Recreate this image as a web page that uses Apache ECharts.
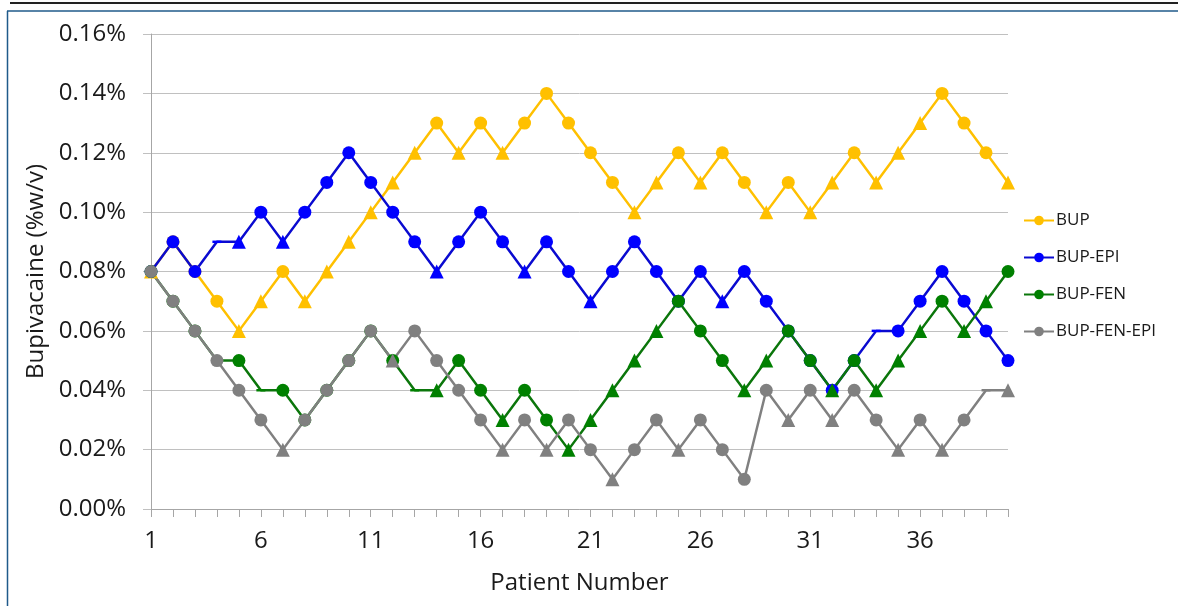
<!DOCTYPE html>
<html>
<head>
<meta charset="utf-8">
<script src="https://cdn.jsdelivr.net/npm/echarts@6/dist/echarts.min.js"></script>
<style>
  html, body { margin: 0; padding: 0; background: #fff; }
  #chart { width: 1178px; height: 606px; }
</style>
</head>
<body>
<div id="chart"></div>
<script>
  // patient numbers 1..40
  const patients = ['1','2','3','4','5','6','7','8','9','10','11','12','13','14','15','16','17','18','19','20',
    '21','22','23','24','25','26','27','28','29','30','31','32','33','34','35','36','37','38','39','40'];

  // bupivacaine concentration (%w/v) per patient
  const bup = [0.08, 0.09, 0.08, 0.07, 0.06, 0.07, 0.08, 0.07, 0.08, 0.09, 0.10, 0.11, 0.12, 0.13, 0.12, 0.13, 0.12, 0.13, 0.14, 0.13,
    0.12, 0.11, 0.10, 0.11, 0.12, 0.11, 0.12, 0.11, 0.10, 0.11, 0.10, 0.11, 0.12, 0.11, 0.12, 0.13, 0.14, 0.13, 0.12, 0.11];
  const bupEpi = [0.08, 0.09, 0.08, 0.09, 0.09, 0.10, 0.09, 0.10, 0.11, 0.12, 0.11, 0.10, 0.09, 0.08, 0.09, 0.10, 0.09, 0.08, 0.09, 0.08,
    0.07, 0.08, 0.09, 0.08, 0.07, 0.08, 0.07, 0.08, 0.07, 0.06, 0.05, 0.04, 0.05, 0.06, 0.06, 0.07, 0.08, 0.07, 0.06, 0.05];
  const bupFen = [0.08, 0.07, 0.06, 0.05, 0.05, 0.04, 0.04, 0.03, 0.04, 0.05, 0.06, 0.05, 0.04, 0.04, 0.05, 0.04, 0.03, 0.04, 0.03, 0.02,
    0.03, 0.04, 0.05, 0.06, 0.07, 0.06, 0.05, 0.04, 0.05, 0.06, 0.05, 0.04, 0.05, 0.04, 0.05, 0.06, 0.07, 0.06, 0.07, 0.08];
  const bupFenEpi = [0.08, 0.07, 0.06, 0.05, 0.04, 0.03, 0.02, 0.03, 0.04, 0.05, 0.06, 0.05, 0.06, 0.05, 0.04, 0.03, 0.02, 0.03, 0.02, 0.03,
    0.02, 0.01, 0.02, 0.03, 0.02, 0.03, 0.02, 0.01, 0.04, 0.03, 0.04, 0.03, 0.04, 0.03, 0.02, 0.03, 0.02, 0.03, 0.04, 0.04];

  // marker per patient: c = circle, t = triangle, d = dash
  const bupMarks = ['t','c','c','c','t','t','c','t','t','t','t','t','t','c','t','c','t','c','c','c',
    'c','c','t','t','c','t','c','c','t','c','t','t','c','t','t','t','c','c','c','t'];
  const bupEpiMarks = ['c','c','c','d','t','c','t','c','c','c','c','c','c','t','c','c','c','t','c','c',
    't','c','c','c','c','c','t','c','c','c','c','c','c','d','c','c','c','c','c','c'];
  const bupFenMarks = ['c','c','c','d','c','d','c','c','c','c','c','c','d','t','c','c','t','c','c','t',
    't','t','t','t','c','c','c','t','t','c','c','t','c','t','t','t','c','t','t','c'];
  const bupFenEpiMarks = ['c','c','c','c','c','c','t','c','c','c','c','t','c','c','c','c','t','c','t','c',
    'c','t','c','c','t','c','c','c','c','t','c','t','c','c','t','c','t','c','d','t'];

  const yTicks = [0, 0.02, 0.04, 0.06, 0.08, 0.10, 0.12, 0.14, 0.16];

  const font = "'Open Sans', 'Noto Sans', sans-serif";

  function points(values, marks) {
    return values.map(function (v, i) {
      const m = marks[i];
      if (m === 't') return { value: v, symbol: 'triangle', symbolSize: 14 };
      if (m === 'd') return { value: v, symbol: 'rect', symbolSize: [9, 2.5] };
      return { value: v, symbol: 'circle', symbolSize: 13 };
    });
  }

  function lineSeries(name, color, lineColor, values, marks) {
    return {
      name: name,
      type: 'line',
      symbol: 'circle',
      symbolSize: 13,
      showAllSymbol: true,
      lineStyle: { color: lineColor, width: 2.5 },
      itemStyle: { color: color },
      emphasis: { disabled: true },
      data: points(values, marks)
    };
  }

  const chart = echarts.init(document.getElementById('chart'));
  chart.setOption({
    backgroundColor: '#fff',
    animation: false,
    graphic: [
      { type: 'line', shape: { x1: 10, y1: 3, x2: 1178, y2: 3 }, style: { stroke: '#222', lineWidth: 2 } },
      { type: 'line', shape: { x1: 7, y1: 11, x2: 1178, y2: 11 }, style: { stroke: '#1f5a8a', lineWidth: 1.5 } },
      { type: 'line', shape: { x1: 7.5, y1: 11, x2: 7.5, y2: 606 }, style: { stroke: '#1f5a8a', lineWidth: 1.5 } }
    ],
    grid: { left: 151, right: 170, top: 34, bottom: 97 },
    legend: {
      orient: 'vertical',
      left: 1018,
      top: 207,
      itemWidth: 30,
      itemHeight: 12,
      itemGap: 20,
      textStyle: { fontFamily: font, fontSize: 17, color: '#1a1a1a', padding: [0, 0, 0, -3] },
      data: ['BUP', 'BUP-EPI', 'BUP-FEN', 'BUP-FEN-EPI']
    },
    xAxis: {
      type: 'category',
      boundaryGap: false,
      data: patients,
      name: 'Patient Number',
      nameLocation: 'middle',
      nameGap: 62,
      nameTextStyle: { fontFamily: font, fontSize: 24, color: '#1a1a1a' },
      axisLine: { lineStyle: { color: '#a6a6a6', width: 1 } },
      axisTick: { show: true, interval: 0, length: 8, lineStyle: { color: '#a6a6a6' } },
      axisLabel: { interval: 4, margin: 20, fontFamily: font, fontSize: 24, color: '#1a1a1a' },
      splitLine: { show: false }
    },
    yAxis: {
      type: 'value',
      min: 0,
      max: 0.16,
      interval: 0.02,
      name: 'Bupivacaine (%w/v)',
      nameLocation: 'middle',
      nameGap: 102,
      nameRotate: 90,
      nameTextStyle: { fontFamily: font, fontSize: 24, color: '#1a1a1a' },
      axisLine: { show: true, lineStyle: { color: '#a6a6a6', width: 1 } },
      axisTick: { show: true, length: 8, lineStyle: { color: '#c0c0c0' } },
      axisLabel: {
        margin: 25,
        fontFamily: font,
        fontSize: 24,
        color: '#1a1a1a',
        customValues: yTicks,
        formatter: function (v) { return v.toFixed(2) + '%'; }
      },
      splitLine: { lineStyle: { color: '#c0c0c0', width: 1 } }
    },
    series: [
      lineSeries('BUP', '#ffc000', '#ffc000', bup, bupMarks),
      lineSeries('BUP-EPI', '#0000ff', '#0a0ad0', bupEpi, bupEpiMarks),
      lineSeries('BUP-FEN', '#008000', '#0b760b', bupFen, bupFenMarks),
      lineSeries('BUP-FEN-EPI', '#808080', '#808080', bupFenEpi, bupFenEpiMarks)
    ]
  });
</script>
</body>
</html>
